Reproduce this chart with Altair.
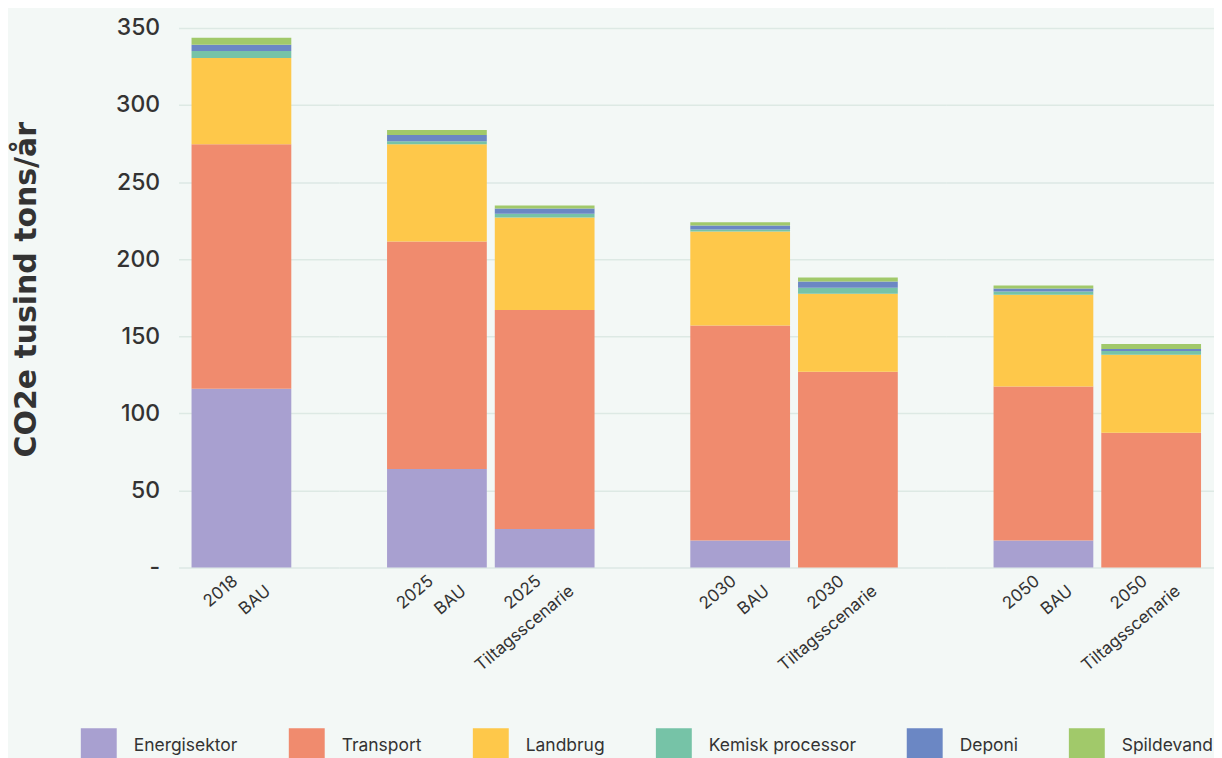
import altair as alt
import pandas as pd

# ---- data ----
scenarios = ["2018|BAU", "2025|BAU", "2025|Tiltagsscenarie", "2030|BAU",
             "2030|Tiltagsscenarie", "2050|BAU", "2050|Tiltagsscenarie"]
years = ["2018", "2025", "2025", "2030", "2030", "2050", "2050"]
sectors = ["Energisektor", "Transport", "Landbrug", "Kemisk processor", "Deponi", "Spildevand"]

energisektor = [116, 64, 25, 17.5, 0, 17.5, 0]
transport = [158.5, 147.5, 142, 139.5, 127, 100, 87.5]
landbrug = [56, 63, 60, 61, 50.5, 59.5, 50.5]
kemisk = [4.5, 2, 2.5, 1.3, 4, 2, 2.5]
deponi = [4, 4, 3.3, 2.6, 4, 2, 1.3]
spildevand = [4.6, 3.2, 2, 2, 2.6, 2, 3.2]
series = [energisektor, transport, landbrug, kemisk, deponi, spildevand]

colors = ["#a8a0d0", "#f08b6e", "#fec84a", "#76c3a7", "#6b87c4", "#a1c96a"]

rows = []
for si, (sector, vals) in enumerate(zip(sectors, series)):
    for sc, yr, v in zip(scenarios, years, vals):
        rows.append({"scenario": sc, "year": yr, "sector": sector, "order": si, "value": v})
df = pd.DataFrame(rows)

FONT = "Inter"
TXT = "#333333"
H = 541
XFS = 17

color_enc = alt.Color(
    "sector:N",
    scale=alt.Scale(domain=sectors, range=colors),
    sort=sectors,
    legend=alt.Legend(
        title=None, orient="none", direction="horizontal",
        legendX=-98, legendY=702,
        symbolType="square", symbolSize=1296, symbolStrokeWidth=0,
        symbolOpacity=1, labelFontSize=17.5, labelFont=FONT, labelColor=TXT,
        labelOffset=17, columnPadding=50.5, labelLimit=300,
    ),
)

# panel layout: (year, width, paddingOuter, align)
panels = [("2018", 161, 0.2824, 0.2131),
          ("2025", 304, 0.4444, 0.5),
          ("2030", 304, 0.4444, 0.5),
          ("2050", 269, 0.2824, 0.787)]

ticks_y = [0, 50, 100, 150, 200, 250, 300, 350]


def xaxis(part, offset, pad):
    return alt.Axis(title=None, orient="bottom",
                    labelExpr="split(datum.value, '|')[%d]" % part,
                    labelAngle=-40, labelAlign="right", labelBaseline="top",
                    labelFont=FONT, labelFontSize=XFS, labelColor=TXT,
                    labelPadding=pad, labelOffset=offset, ticks=False,
                    domain=False, grid=False, labelOverlap=False)


charts = []
for i, (yr, w, po, al) in enumerate(panels):
    dom = [s for s, y in zip(scenarios, years) if y == yr]
    xscale = alt.Scale(domain=dom, paddingInner=0.0741, paddingOuter=po, align=al)
    if i == 0:
        yaxis = alt.Axis(
            title="CO2e tusind tons/år", titleFont="DejaVu Sans", titleFontSize=30,
            titleFontWeight="bold", titleColor=TXT, titlePadding=74, titleY=262,
            titleLimit=600,
            values=ticks_y,
            labelExpr="datum.value == 0 ? '-' : datum.label",
            labelFont=FONT, labelFontSize=23, labelFontWeight=500, labelColor=TXT,
            labelPadding=19, ticks=False, tickSize=0, domain=False,
            grid=True, gridColor="#dde9e4", gridWidth=1.5,
        )
    else:
        yaxis = alt.Axis(
            title=None, labels=False, ticks=False, tickSize=0, domain=False,
            values=ticks_y,
            grid=True, gridColor="#dde9e4", gridWidth=1.5,
        )
    base = alt.Chart(df).transform_filter(alt.datum.year == yr)
    bars = base.mark_bar().encode(
        x=alt.X("scenario:N", sort=dom, scale=xscale, axis=xaxis(0, -11, 5)),
        y=alt.Y("value:Q", stack="zero",
                scale=alt.Scale(domain=[0, 350], nice=False), axis=yaxis),
        color=color_enc,
        order=alt.Order("order:Q", sort="ascending"),
    )
    line2 = base.mark_point(opacity=0).encode(
        x=alt.X("scenario:N", sort=dom, scale=xscale, axis=xaxis(1, 22, 15)),
    )
    c = (alt.layer(bars, line2)
         .resolve_axis(x="independent")
         .properties(width=w, height=H))
    charts.append(c)

chart = (
    alt.hconcat(*charts, spacing=0)
    .resolve_scale(color="shared")
    .properties(bounds="flush", padding={"left": 3, "top": 8, "right": 0, "bottom": 5})
    .configure(background="#f3f8f6")
    .configure_view(stroke=None)
)

chart.save("out.html", embed_options={"renderer": "svg", "actions": False})
